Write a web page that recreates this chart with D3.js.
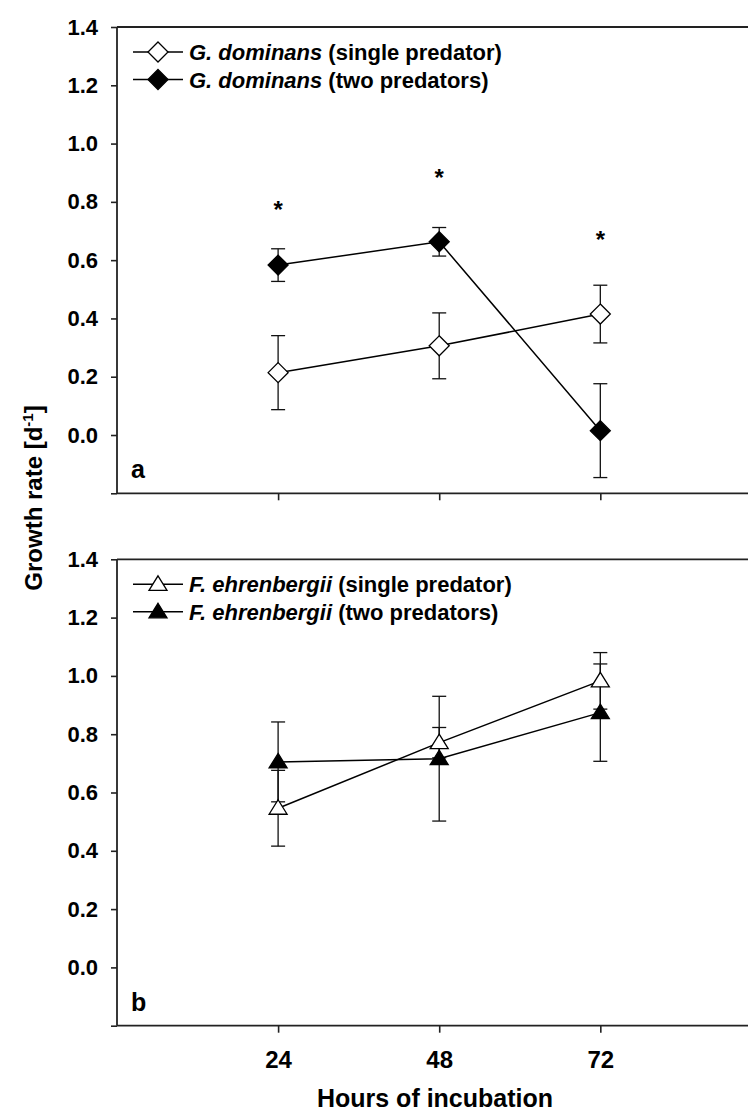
<!DOCTYPE html>
<html>
<head>
<meta charset="utf-8">
<script src="https://cdn.jsdelivr.net/npm/d3@7"></script>
<style>
  body { margin: 0; background: #fff; }
  svg { display: block; font-family: "Liberation Sans", Arial, sans-serif; font-weight: bold; }
</style>
</head>
<body>
<div id="chart"></div>
<script>
const width = 748;
const height = 1115;

// hours of incubation
const hours = [24, 48, 72];
const yTicks = [-0.2, 0.0, 0.2, 0.4, 0.6, 0.8, 1.0, 1.2, 1.4];

// panel a: G. dominans
const gdSingle = [0.214, 0.306, 0.415];
const gdSingleErr = [0.127, 0.113, 0.099];
const gdTwo = [0.583, 0.663, 0.015];
const gdTwoErr = [0.056, 0.049, 0.161];
const gdStars = [0.789, 0.900, 0.686];

// panel b: F. ehrenbergii
const feSingle = [0.546, 0.771, 0.983];
const feSingleErr = [0.130, 0.052, 0.097];
const feTwo = [0.705, 0.716, 0.874];
const feTwoErr = [0.137, 0.214, 0.167];

const svg = d3.select("#chart")
    .append("svg")
    .attr("width", width)
    .attr("height", height);

svg.append("rect").attr("width", width).attr("height", height).attr("fill", "#fff");

const x = d3.scaleLinear().domain([0, 94]).range([117, 748]);

const panels = [
    {
        top: 27, bottom: 493.3, label: "a", species: "G. dominans", shape: "diamond",
        series: [
            { name: "single predator", values: gdSingle, err: gdSingleErr, fill: "#fff" },
            { name: "two predators", values: gdTwo, err: gdTwoErr, fill: "#000" }
        ],
        stars: gdStars, xLabels: false
    },
    {
        top: 559.3, bottom: 1025.7, label: "b", species: "F. ehrenbergii", shape: "triangle",
        series: [
            { name: "single predator", values: feSingle, err: feSingleErr, fill: "#fff" },
            { name: "two predators", values: feTwo, err: feTwoErr, fill: "#000" }
        ],
        stars: null, xLabels: true
    }
];

function markerPath(shape) {
    if (shape === "diamond") return "M0,-10L10,0L0,10L-10,0Z";
    return "M0,-8.5L9,6L-9,6Z";
}

panels.forEach(p => {
    const y = d3.scaleLinear().domain([-0.2, 1.4]).range([p.bottom, p.top]);
    const g = svg.append("g");

    // y axis
    const yAxis = g.append("g")
        .attr("transform", `translate(${x(0)},0)`)
        .call(d3.axisLeft(y)
            .tickValues(yTicks)
            .tickSize(6)
            .tickPadding(13)
            .tickFormat(d => d < -0.1 ? "" : d3.format(".1f")(d)));
    yAxis.select(".domain").remove();
    yAxis.selectAll("line").attr("stroke", "#222").attr("stroke-width", 1.6);
    yAxis.selectAll("text")
        .attr("font-size", 22)
        .attr("font-family", "Liberation Sans, Arial, sans-serif")
        .attr("font-weight", "bold")
        .attr("fill", "#000");

    // x axis (ticks)
    const xAxis = g.append("g")
        .attr("transform", `translate(0,${y(-0.2)})`)
        .call(d3.axisBottom(x)
            .tickValues(hours)
            .tickSize(7)
            .tickPadding(18)
            .tickFormat(d => p.xLabels ? d : ""));
    xAxis.select(".domain").remove();
    xAxis.selectAll("line").attr("stroke", "#222").attr("stroke-width", 1.6);
    xAxis.selectAll("text")
        .attr("font-size", 24)
        .attr("font-family", "Liberation Sans, Arial, sans-serif")
        .attr("font-weight", "bold")
        .attr("fill", "#000");

    // frame lines
    const frame = g.append("g").attr("stroke", "#222").attr("stroke-width", 1.8);
    frame.append("line").attr("x1", x(0)).attr("x2", width).attr("y1", y(1.4)).attr("y2", y(1.4));
    frame.append("line").attr("x1", x(0)).attr("x2", width).attr("y1", y(-0.2)).attr("y2", y(-0.2));
    frame.append("line").attr("x1", x(0)).attr("x2", x(0)).attr("y1", y(1.4)).attr("y2", y(-0.2));

    // error bars
    p.series.forEach(s => {
        const eb = g.append("g").attr("stroke", "#111").attr("stroke-width", 1.3);
        hours.forEach((h, i) => {
            const cx = x(h);
            const y1 = y(s.values[i] + s.err[i]);
            const y2 = y(s.values[i] - s.err[i]);
            eb.append("line").attr("x1", cx).attr("x2", cx).attr("y1", y1).attr("y2", y2);
            eb.append("line").attr("x1", cx - 7).attr("x2", cx + 7).attr("y1", y1).attr("y2", y1);
            eb.append("line").attr("x1", cx - 7).attr("x2", cx + 7).attr("y1", y2).attr("y2", y2);
        });
    });

    // lines
    const line = d3.line().x((d, i) => x(hours[i])).y(d => y(d));
    p.series.forEach(s => {
        g.append("path")
            .attr("d", line(s.values))
            .attr("fill", "none")
            .attr("stroke", "#000")
            .attr("stroke-width", 1.5);
    });

    // markers
    p.series.forEach(s => {
        g.append("g").selectAll("path")
            .data(s.values)
            .join("path")
            .attr("d", markerPath(p.shape))
            .attr("transform", (d, i) => `translate(${x(hours[i])},${y(d)})`)
            .attr("fill", s.fill)
            .attr("stroke", "#000")
            .attr("stroke-width", 1.3);
    });

    // significance stars
    if (p.stars) {
        g.append("g").selectAll("text")
            .data(p.stars)
            .join("text")
            .attr("x", (d, i) => x(hours[i]))
            .attr("y", d => y(d) + 13)
            .attr("text-anchor", "middle")
            .attr("font-size", 24)
            .text("*");
    }

    // legend
    const leg = g.append("g");
    p.series.forEach((s, i) => {
        const ly = p.top + 25 + i * 27.5;
        leg.append("line")
            .attr("x1", 133).attr("x2", 183).attr("y1", ly).attr("y2", ly)
            .attr("stroke", "#000").attr("stroke-width", 1.5);
        leg.append("path")
            .attr("d", markerPath(p.shape))
            .attr("transform", `translate(158,${ly})`)
            .attr("fill", s.fill)
            .attr("stroke", "#000")
            .attr("stroke-width", 1.3);
        const t = leg.append("text")
            .attr("x", 189)
            .attr("y", ly + 8)
            .attr("font-size", 22);
        t.append("tspan").attr("font-style", "italic").text(p.species);
        t.append("tspan").text(` (${s.name})`);
    });

    // panel label
    g.append("text")
        .attr("x", 131)
        .attr("y", y(-0.2) - 15)
        .attr("font-size", 25)
        .text(p.label);
});

// axis titles
const yt = svg.append("text")
    .attr("transform", "translate(42,498) rotate(-90)")
    .attr("text-anchor", "middle")
    .attr("font-size", 24);
yt.append("tspan").text("Growth rate [d");
yt.append("tspan").attr("font-size", 15).attr("dy", -9).text("-1");
yt.append("tspan").attr("dy", 9).text("]");

svg.append("text")
    .attr("x", 435)
    .attr("y", 1107)
    .attr("text-anchor", "middle")
    .attr("font-size", 25)
    .text("Hours of incubation");
</script>
</body>
</html>
